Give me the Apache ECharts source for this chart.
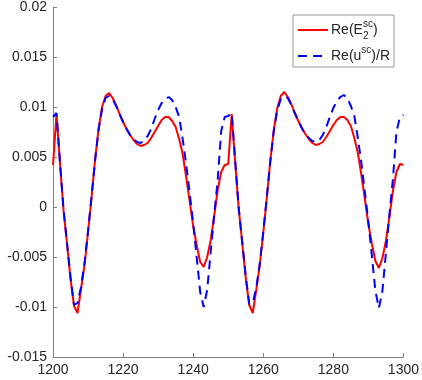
<!DOCTYPE html>
<html>
<head>
<meta charset="utf-8">
<script src="https://cdn.jsdelivr.net/npm/echarts@6/dist/echarts.min.js"></script>
<style>
  html, body { margin: 0; padding: 0; background: #fff; }
  #chart { width: 422px; height: 380px; }
</style>
</head>
<body>
<div id="chart"></div>
<script>
// x 采样起点与步长
const xStart = 1200;
const xStep = 1;
const xTicks = [1200, 1220, 1240, 1260, 1280, 1300];
const yTicks = [-0.015, -0.01, -0.005, 0, 0.005, 0.01, 0.015, 0.02];

// Re(E2sc)
const redValues = [
  0.0042, 0.0093, 0.0043, -0.0003, -0.0037, -0.0072, -0.0099, -0.0106, -0.0082, -0.0058,
  -0.0025, 0.0010, 0.0047, 0.0078, 0.0100, 0.0111, 0.0114, 0.0109, 0.0102, 0.0093,
  0.0085, 0.0078, 0.0072, 0.0067, 0.0063, 0.0061, 0.0062, 0.0064, 0.0069, 0.0075,
  0.0081, 0.0087, 0.0090, 0.0090, 0.0086, 0.0080, 0.0068, 0.0053, 0.0030, 0.0006,
  -0.0019, -0.0038, -0.0055, -0.0060, -0.0050, -0.0033, -0.0009, 0.0017, 0.0035, 0.0042,
  0.0043, 0.0093, 0.0044, -0.0002, -0.0036, -0.0071, -0.0098, -0.0106, -0.0083, -0.0058,
  -0.0026, 0.0009, 0.0046, 0.0077, 0.0099, 0.0111, 0.0115, 0.0110, 0.0103, 0.0094,
  0.0086, 0.0079, 0.0073, 0.0068, 0.0064, 0.0062, 0.0063, 0.0065, 0.0070, 0.0076,
  0.0082, 0.0087, 0.0090, 0.0090, 0.0087, 0.0081, 0.0069, 0.0054, 0.0032, 0.0008,
  -0.0017, -0.0037, -0.0054, -0.0061, -0.0051, -0.0034, -0.0010, 0.0016, 0.0035, 0.0043,
  0.0042
];
// Re(usc)/R
const blueValues = [
  0.0090, 0.0094, 0.0045, -0.0002, -0.0036, -0.0070, -0.0098, -0.0096, -0.0080, -0.0056,
  -0.0024, 0.0010, 0.0046, 0.0077, 0.0098, 0.0109, 0.0111, 0.0108, 0.0101, 0.0093,
  0.0085, 0.0078, 0.0072, 0.0068, 0.0065, 0.0064, 0.0066, 0.0071, 0.0078, 0.0088,
  0.0097, 0.0104, 0.0108, 0.0110, 0.0107, 0.0100, 0.0090, 0.0068, 0.0043, 0.0014,
  -0.0016, -0.0050, -0.0085, -0.0100, -0.0083, -0.0045, -0.0008, 0.0027, 0.0076, 0.0090,
  0.0091, 0.0094, 0.0046, -0.0001, -0.0035, -0.0069, -0.0097, -0.0096, -0.0081, -0.0057,
  -0.0025, 0.0009, 0.0045, 0.0076, 0.0097, 0.0108, 0.0111, 0.0109, 0.0102, 0.0094,
  0.0086, 0.0079, 0.0073, 0.0069, 0.0066, 0.0065, 0.0067, 0.0072, 0.0080, 0.0090,
  0.0099, 0.0106, 0.0110, 0.0112, 0.0109, 0.0101, 0.0091, 0.0069, 0.0044, 0.0015,
  -0.0015, -0.0049, -0.0084, -0.0101, -0.0084, -0.0046, -0.0008, 0.0028, 0.0075, 0.0090,
  0.0092
];

const seriesNames = ['Re(E2sc)', 'Re(usc)/R'];

function toPairs(values) {
  return values.map((v, i) => [xStart + i * xStep, v]);
}

const chart = echarts.init(document.getElementById('chart'));
const fontName = 'Liberation Sans, Arial, sans-serif';
const labelFont = {
  fontFamily: fontName,
  fontSize: 14,
  color: '#262626'
};

chart.setOption({
  animation: false,
  backgroundColor: '#fff',
  grid: {
    left: 53,
    right: 18.5,
    top: 5,
    bottom: 23,
    containLabel: false
  },
  legend: {
    orient: 'vertical',
    right: 28,
    top: 15,
    itemWidth: 30,
    itemHeight: 14,
    itemGap: 4,
    padding: [4, 4, 4, 4],
    borderColor: '#999',
    borderWidth: 1,
    data: seriesNames,
    itemStyle: { opacity: 0 },
    formatter: function (name) {
      if (name === seriesNames[0]) {
        return '{b|Re(E}{sub|2}{sup|sc}{b|)}';
      }
      return '{b|Re(u}{sup|sc}{b|)/R}';
    },
    textStyle: {
      fontFamily: fontName,
      color: '#262626',
      padding: [0, 0, 0, -2],
      rich: {
        b: { fontSize: 14, lineHeight: 22, verticalAlign: 'middle', fontFamily: fontName, color: '#262626' },
        sup: { fontSize: 10, lineHeight: 22, verticalAlign: 'top', fontFamily: fontName, color: '#262626' },
        sub: { fontSize: 10, lineHeight: 22, verticalAlign: 'bottom', width: 0.1, fontFamily: fontName, color: '#262626' }
      }
    }
  },
  xAxis: {
    type: 'value',
    min: xTicks[0],
    max: xTicks[xTicks.length - 1],
    interval: xTicks[1] - xTicks[0],
    axisLine: { onZero: false, lineStyle: { color: '#808080', width: 1 } },
    axisTick: { inside: true, length: 4, lineStyle: { color: '#808080' } },
    axisLabel: Object.assign({
      margin: 6,
      formatter: v => String(v)
    }, labelFont),
    splitLine: { show: false }
  },
  yAxis: {
    type: 'value',
    min: yTicks[0],
    max: yTicks[yTicks.length - 1],
    interval: 0.005,
    axisLine: { show: true, onZero: false, lineStyle: { color: '#808080', width: 1 } },
    axisTick: { show: true, inside: true, length: 4, lineStyle: { color: '#808080' } },
    axisLabel: Object.assign({
      margin: 6,
      formatter: v => String(+v.toFixed(3))
    }, labelFont),
    splitLine: { show: false }
  },
  series: [
    {
      name: seriesNames[0],
      type: 'line',
      data: toPairs(redValues),
      symbol: 'none',
      lineStyle: { color: '#ff0000', width: 2 },
      itemStyle: { color: '#ff0000' }
    },
    {
      name: seriesNames[1],
      type: 'line',
      data: toPairs(blueValues),
      symbol: 'none',
      lineStyle: { color: '#0000ff', width: 2, type: [9, 6] },
      itemStyle: { color: '#0000ff' }
    }
  ]
});
</script>
</body>
</html>
